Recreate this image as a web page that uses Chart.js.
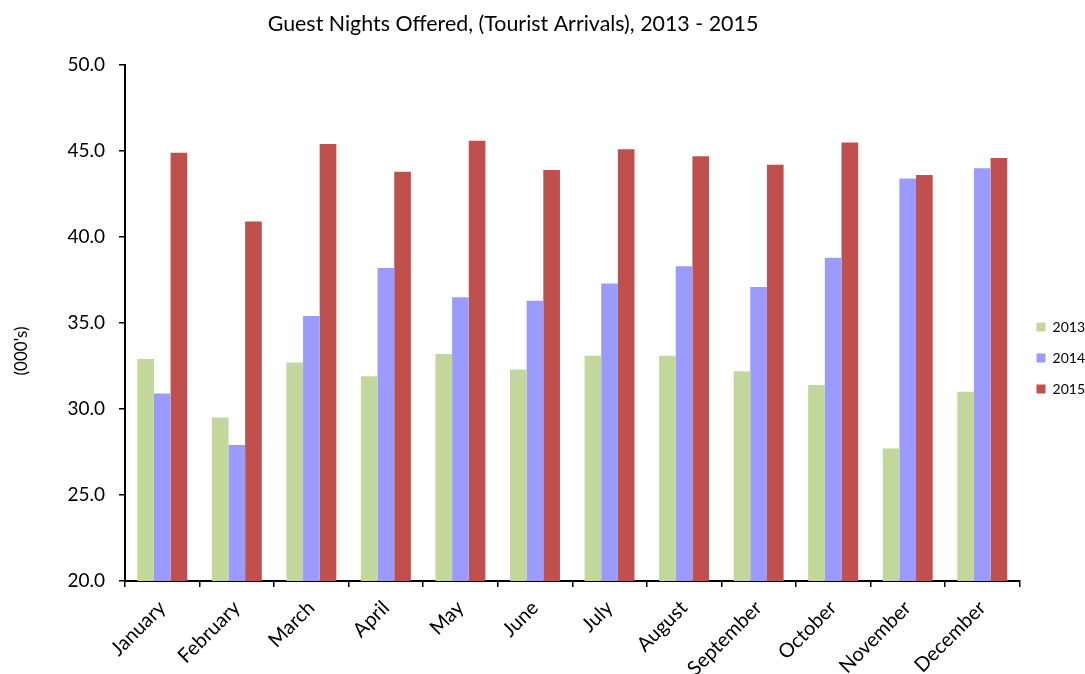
<!DOCTYPE html>
<html>
<head>
<meta charset="utf-8">
<script src="https://cdn.jsdelivr.net/npm/chart.js@4.4.1/dist/chart.umd.min.js"></script>
<style>
  html, body { margin: 0; padding: 0; background: #fff; }
  #wrap { width: 1085px; height: 674px; position: relative; }
</style>
</head>
<body>
<div id="wrap"><canvas id="guest-nights"></canvas></div>
<script>
const months = ["January", "February", "March", "April", "May", "June",
                "July", "August", "September", "October", "November", "December"];
const years = ["2013", "2014", "2015"];
const nights2013 = [32.9, 29.5, 32.7, 31.9, 33.2, 32.3, 33.1, 33.1, 32.2, 31.4, 27.7, 31.0];
const nights2014 = [30.9, 27.9, 35.4, 38.2, 36.5, 36.3, 37.3, 38.3, 37.1, 38.8, 43.4, 44.0];
const nights2015 = [44.9, 40.9, 45.4, 43.8, 45.6, 43.9, 45.1, 44.7, 44.2, 45.5, 43.6, 44.6];
const barColors = ["#C3D69B", "#9B9BFF", "#C0504D"];
const chartTitle = "Guest Nights Offered, (Tourist Arrivals), 2013 - 2015";
const yAxisTitle = "(000's)";

const fontFamily = "Lato";

// title and y axis title drawn by hand, they sit off-centre in the original
const textPlugin = {
    id: "offsetTexts",
    afterDraw(chart) {
        const ctx = chart.ctx;
        ctx.save();
        ctx.fillStyle = "#000";
        ctx.textAlign = "center";
        ctx.textBaseline = "middle";
        ctx.font = "21.4px " + fontFamily;
        ctx.fillText(chartTitle, 513, 24);
        ctx.translate(22, 351);
        ctx.rotate(-Math.PI / 2);
        ctx.font = "17px " + fontFamily;
        ctx.fillText(yAxisTitle, 0, 0);
        ctx.restore();
    }
};

const seriesData = [nights2013, nights2014, nights2015];

new Chart("guest-nights", {
    type: "bar",
    data: {
        labels: months,
        datasets: years.map((y, i) => ({
            label: y,
            data: seriesData[i],
            backgroundColor: barColors[i],
            borderWidth: 0,
            categoryPercentage: 0.67,
            barPercentage: 1.0
        }))
    },
    options: {
        responsive: true,
        maintainAspectRatio: false,
        animation: false,
        layout: { padding: { top: 65, right: -10, left: 0, bottom: 0 } },
        plugins: {
            legend: {
                position: "right",
                fullSize: false,
                // blank title only pushes the entries down to where they sit in the original
                title: { display: true, text: " ", font: { size: 10 }, padding: { top: 29, bottom: 29 } },
                labels: {
                    boxWidth: 9,
                    boxHeight: 9,
                    padding: 17,
                    color: "#000",
                    font: { family: fontFamily, size: 14 }
                }
            },
            tooltip: { enabled: false }
        },
        scales: {
            x: {
                border: { color: "#000", width: 2 },
                grid: { drawOnChartArea: false, drawTicks: true, tickLength: 6, color: "#000", lineWidth: 1.5 },
                ticks: {
                    color: "#000",
                    font: { family: fontFamily, size: 20 },
                    maxRotation: 45,
                    minRotation: 45,
                    autoSkip: false,
                    padding: 9
                },
                afterFit(scale) { scale.height = 93; }
            },
            y: {
                min: 20,
                max: 50,
                border: { color: "#000", width: 2 },
                grid: { drawOnChartArea: false, drawTicks: true, tickLength: 6, color: "#000", lineWidth: 1.5 },
                ticks: {
                    stepSize: 5,
                    color: "#000",
                    font: { family: fontFamily, size: 19 },
                    padding: 14,
                    callback: v => v.toFixed(1)
                },
                afterFit(scale) { scale.width = 125; }
            }
        }
    },
    plugins: [textPlugin]
});
</script>
</body>
</html>
